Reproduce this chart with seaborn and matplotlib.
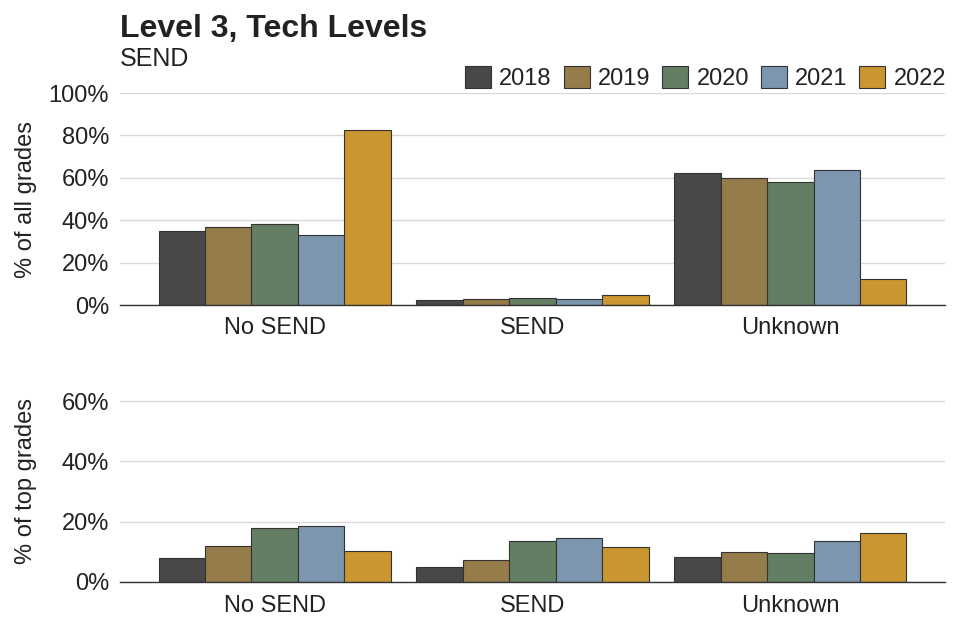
import pandas as pd
import seaborn as sns
import matplotlib.pyplot as plt
from matplotlib.ticker import PercentFormatter

# Data
categories = ["No SEND", "SEND", "Unknown"]
years = ["2018", "2019", "2020", "2021", "2022"]

# % of all grades (rows = year, cols = category)
all_grades = {
    "2018": [34.7, 2.5, 62.1],
    "2019": [36.9, 2.8, 59.7],
    "2020": [38.0, 3.3, 58.2],
    "2021": [33.0, 2.8, 63.7],
    "2022": [82.4, 4.7, 12.3],
}

# % of top grades
top_grades = {
    "2018": [8.1, 5.0, 8.4],
    "2019": [12.0, 7.2, 9.9],
    "2020": [18.0, 13.6, 9.7],
    "2021": [18.6, 14.5, 13.5],
    "2022": [10.4, 11.6, 16.1],
}

palette = ["#484848", "#967c4a", "#637e62", "#7c96b0", "#c9962f"]


def to_long(d):
    rows = []
    for y in years:
        for c, v in zip(categories, d[y]):
            rows.append({"category": c, "year": y, "value": v})
    return pd.DataFrame(rows)


sns.set_style("white")
plt.rcParams["font.family"] = ["Liberation Sans", "DejaVu Sans"]
text_col = "#222222"
fs = 17

fig = plt.figure(figsize=(9.6, 6.4), dpi=100)
ax1 = fig.add_axes([120 / 960, 1 - 305 / 640, 825 / 960, 212 / 640])
ax2 = fig.add_axes([120 / 960, 1 - 582 / 640, 825 / 960, 202 / 640])


def draw(ax, df, ylim, ticks, ylabel):
    sns.barplot(data=df, x="category", y="value", hue="year", order=categories,
                hue_order=years, palette=palette, width=0.9, gap=0,
                edgecolor="#333333", linewidth=0.8, saturation=1, ax=ax)
    ax.set_xlim(-0.6, 2.6)
    ax.set_ylim(*ylim)
    ax.set_yticks(ticks)
    ax.yaxis.set_major_formatter(PercentFormatter(decimals=0))
    ax.grid(axis="y", color="#d9d9d9", linewidth=1)
    ax.set_axisbelow(True)
    for s in ["top", "right", "left"]:
        ax.spines[s].set_visible(False)
    ax.spines["bottom"].set_color("#333333")
    ax.spines["bottom"].set_linewidth(1)
    ax.tick_params(axis="both", length=0, labelsize=fs, colors=text_col)
    ax.tick_params(axis="x", pad=9)
    ax.tick_params(axis="y", pad=8)
    ax.set_xlabel("")
    ax.set_ylabel(ylabel, fontsize=fs, color=text_col)
    ax.yaxis.set_label_coords(-83 / 825, 0.5)
    ax.get_legend().remove()


draw(ax1, to_long(all_grades), (0, 100), [0, 20, 40, 60, 80, 100], "% of all grades")
draw(ax2, to_long(top_grades), (0, 67), [0, 20, 40, 60], "% of top grades")

handles, labels = ax1.get_legend_handles_labels()
fig.legend(handles, labels, loc="center right", bbox_to_anchor=(946 / 960, 1 - 78 / 640),
           ncol=5, frameon=False, fontsize=fs, handlelength=1.1, handleheight=1.1,
           columnspacing=0.5, handletextpad=0.35, borderaxespad=0, borderpad=0,
           labelcolor=text_col)

fig.text(120 / 960, 1 - 37 / 640, "Level 3, Tech Levels", fontsize=23, fontweight="bold",
         color=text_col, ha="left", va="baseline")
fig.text(120 / 960, 1 - 66 / 640, "SEND", fontsize=18, color=text_col, ha="left", va="baseline")

plt.savefig("out.png", dpi=100)
